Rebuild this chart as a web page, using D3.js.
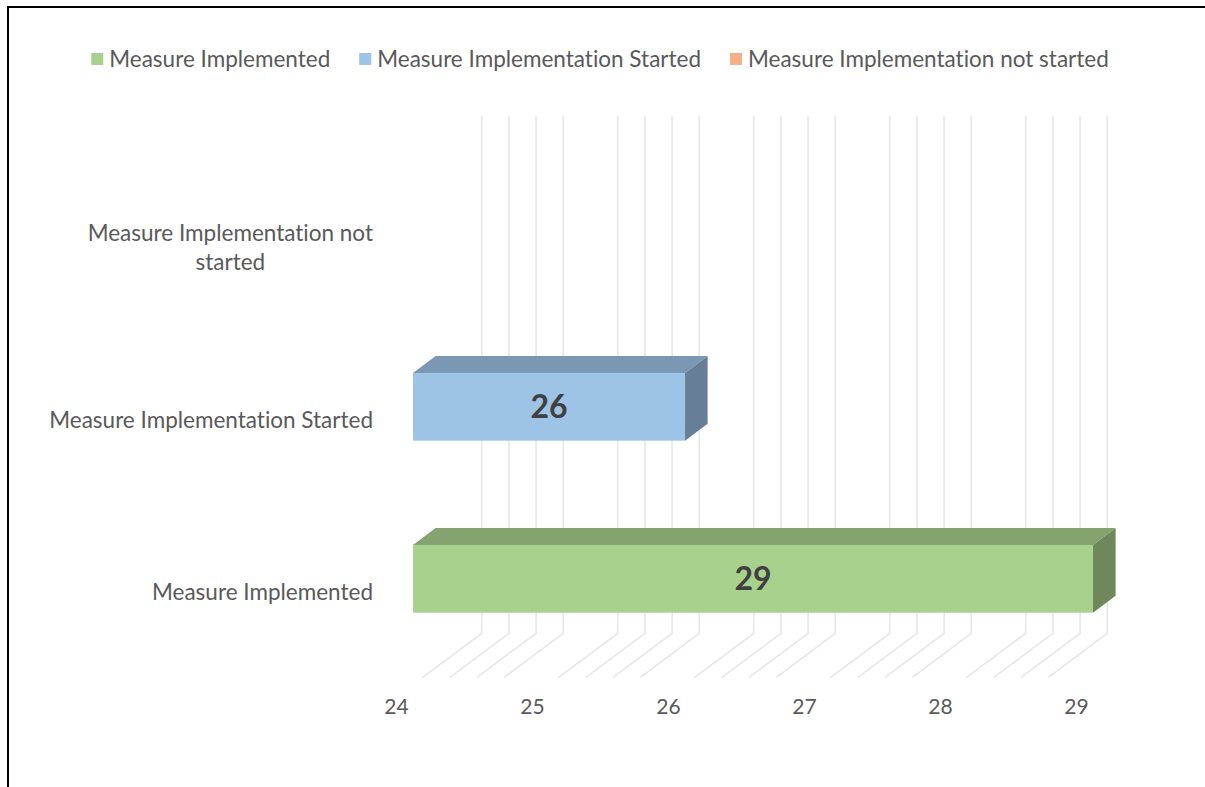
<!DOCTYPE html>
<html>
<head>
<meta charset="utf-8">
<script src="https://cdn.jsdelivr.net/npm/d3@7"></script>
<style>
  html, body { margin: 0; padding: 0; background: #fff; }
  svg { display: block; }
  text { font-family: Lato, "Open Sans", sans-serif; font-variant-ligatures: none; }
</style>
</head>
<body>
<svg id="chart" width="1205" height="787"></svg>
<script>
// ---- data ----
const categories = ["Measure Implemented", "Measure Implementation Started", "Measure Implementation not started"];
const values = [29, 26, 0];
const seriesColors = ["#A9D18E", "#9DC3E6", "#F4B183"];
const legendLabels = ["Measure Implemented", "Measure Implementation Started", "Measure Implementation not started"];
const xTickValues = [24, 25, 26, 27, 28, 29];
const xDomain = [24, 29];

// ---- layout ----
const W = 1205, H = 787;
const svg = d3.select("#chart");
const textColor = "#595959";
const gridColor = "#e7e7e7";
const labelFont = 22.5;

// oblique 3D projection
const DX = 59, DY = 44;          // full floor depth vector
const Z0 = 0.297, Z1 = 0.68;     // bar front / back depth
const floorFrontY = 677.3, floorBackY = floorFrontY - DY, wallTopY = 116;

const x = d3.scaleLinear().domain(xDomain).range([395.5, 1075.5]);
const y = d3.scaleBand()
  .domain(categories.slice().reverse())
  .range([148.8, 664.8])
  .paddingInner(0.606)
  .paddingOuter(0.303);

// frame
svg.append("path")
  .attr("d", `M8,${H} V7 H${W}`)
  .attr("fill", "none").attr("stroke", "#000").attr("stroke-width", 2);

// minor gridlines (every 0.2, integers not drawn)
const minor = d3.range(1, 25).filter(i => i % 5 !== 0).map(i => xDomain[0] + i * 0.2);
const grid = svg.append("g").attr("fill", "none").attr("stroke", gridColor).attr("stroke-width", 1.6);
grid.selectAll("path").data(minor).join("path")
  .attr("d", v => {
    const fx = x(v), bx = x(v) + DX;
    return `M${fx},${floorFrontY} L${bx},${floorBackY} L${bx},${wallTopY}`;
  });

// bars
const bars = svg.append("g");
categories.forEach((c, i) => {
  const v = values[i];
  if (!(v > xDomain[0])) return;
  const col = d3.rgb(seriesColors[i]);
  const top = d3.rgb(col.r * 0.78, col.g * 0.78, col.b * 0.78);
  const side = d3.rgb(col.r * 0.65, col.g * 0.65, col.b * 0.65);
  const x0 = x(xDomain[0]) + Z0 * DX, x1 = x(v) + Z0 * DX;
  const yt = y(c), yb = y(c) + y.bandwidth();
  const ddx = (Z1 - Z0) * DX, ddy = (Z1 - Z0) * DY;
  const g = bars.append("g");
  g.append("path")
    .attr("d", `M${x0},${yt} L${x0 + ddx},${yt - ddy} L${x1 + ddx},${yt - ddy} L${x1},${yt} Z`)
    .attr("fill", top);
  g.append("path")
    .attr("d", `M${x1},${yt} L${x1 + ddx},${yt - ddy} L${x1 + ddx},${yb - ddy} L${x1},${yb} Z`)
    .attr("fill", side);
  g.append("rect")
    .attr("x", x0).attr("y", yt).attr("width", x1 - x0).attr("height", yb - yt)
    .attr("fill", col);
  g.append("text")
    .attr("x", (x0 + x1) / 2).attr("y", (yt + yb) / 2)
    .attr("dy", "0.36em")
    .attr("text-anchor", "middle")
    .attr("font-size", 32).attr("font-weight", "bold")
    .attr("fill", "#404040")
    .text(v);
});

// x axis tick labels
svg.append("g").selectAll("text").data(xTickValues).join("text")
  .attr("x", d => x(d) + 1)
  .attr("y", 707)
  .attr("dy", "0.35em")
  .attr("text-anchor", "middle")
  .attr("font-size", 21)
  .attr("fill", textColor)
  .text(d => d);

// category labels (wrap if too wide)
const labelRight = 373, maxLabelW = 340, lineH = 29;
const catG = svg.append("g");
categories.forEach(c => {
  const cy = y(c) + y.bandwidth() / 2 + Z0 * DY;
  const t = catG.append("text").attr("font-size", labelFont).attr("fill", textColor).text(c);
  const w = t.node().getComputedTextLength();
  if (w <= maxLabelW) {
    t.attr("x", labelRight).attr("y", cy).attr("dy", "0.35em").attr("text-anchor", "end");
  } else {
    const words = c.split(" ");
    const lines = [];
    let cur = [];
    words.forEach(wd => {
      const test = cur.concat([wd]).join(" ");
      t.text(test);
      if (t.node().getComputedTextLength() > maxLabelW && cur.length) {
        lines.push(cur.join(" "));
        cur = [wd];
      } else cur.push(wd);
    });
    lines.push(cur.join(" "));
    t.text(lines[0]);
    const w0 = t.node().getComputedTextLength();
    t.text("");
    const cx = labelRight - w0 / 2;
    t.attr("text-anchor", "middle");
    lines.forEach((ln, k) => {
      t.append("tspan")
        .attr("x", cx)
        .attr("y", cy + (k - (lines.length - 1) / 2) * lineH)
        .attr("dy", "0.35em")
        .text(ln);
    });
  }
});

// legend
const legend = svg.append("g");
const items = legendLabels.map((lbl, i) => {
  const g = legend.append("g");
  g.append("rect").attr("width", 12).attr("height", 12).attr("y", -6).attr("fill", seriesColors[i]);
  const t = g.append("text").attr("x", 18).attr("dy", "0.35em")
    .attr("font-size", labelFont).attr("fill", textColor).text(lbl);
  return { g, w: 18 + t.node().getComputedTextLength() };
});
const gap = 29;
const totalW = d3.sum(items, d => d.w) + gap * (items.length - 1);
let lx = 600 - totalW / 2;
items.forEach(it => {
  it.g.attr("transform", `translate(${lx},59)`);
  lx += it.w + gap;
});
</script>
</body>
</html>
